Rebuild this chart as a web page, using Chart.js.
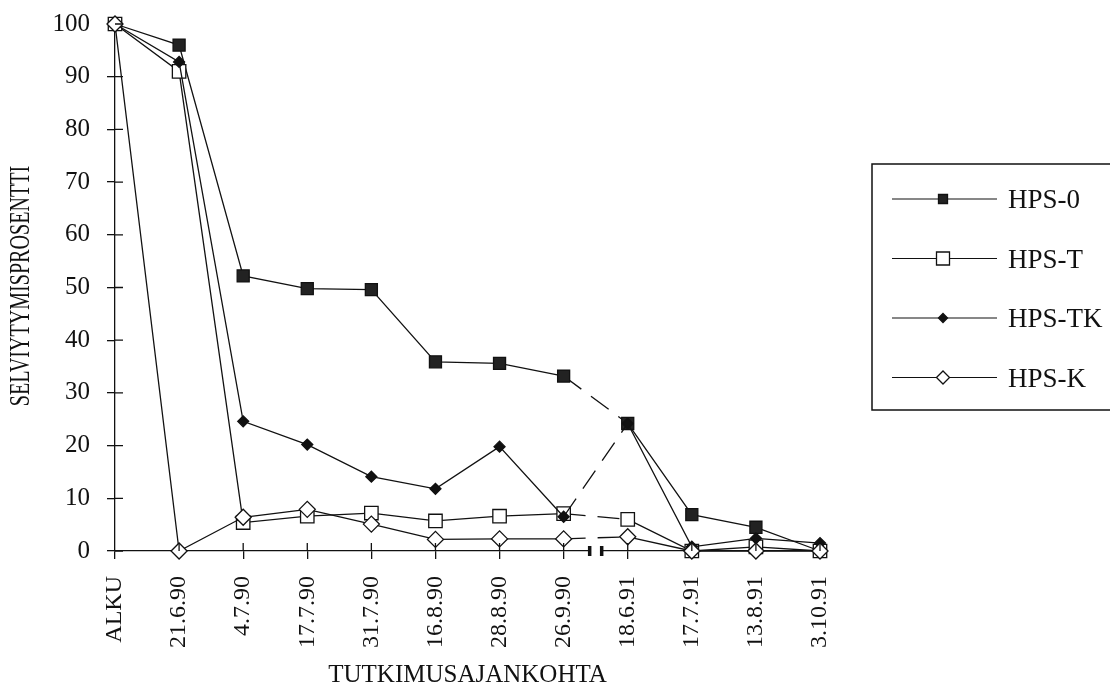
<!DOCTYPE html>
<html lang="fi">
<head>
<meta charset="UTF-8">
<title>Selviytymisprosentti</title>
<script src="https://cdn.jsdelivr.net/npm/chart.js"></script>
<style>
  html, body { margin: 0; padding: 0; background: #fff; }
  #chart { display: block; }
</style>
</head>
<body>
<canvas id="chart" width="1110" height="690"></canvas>
<script>
  const categories = ['ALKU', '21.6.90', '4.7.90', '17.7.90', '31.7.90', '16.8.90', '28.8.90', '26.9.90', '18.6.91', '17.7.91', '13.8.91', '3.10.91'];
  const hps0  = [100, 96.0, 52.2, 49.8, 49.6, 35.9, 35.6, 33.2, 24.2, 6.9, 4.5, 0];
  const hpsT  = [100, 91.0, 5.4, 6.6, 7.2, 5.7, 6.6, 7.1, 6.0, 0, 0.8, 0];
  const hpsTK = [100, 92.8, 24.6, 20.2, 14.1, 11.8, 19.8, 6.5, 24.2, 0.8, 2.4, 1.5];
  const hpsK  = [100, 0, 6.4, 7.9, 5.1, 2.2, 2.3, 2.3, 2.7, 0, 0, 0];
  const yTicks = [0, 10, 20, 30, 40, 50, 60, 70, 80, 90, 100];
  // gap between the 1990 and 1991 measurements
  const breakIndex = 7;

  const ink = '#111';
  const serif = '"Liberation Serif", "Times New Roman", serif';

  function series(label, data, style, radius, fill, order, legendSize) {
    return {
      label, data, order, legendSize,
      borderColor: ink, borderWidth: 1.3,
      pointStyle: style, pointRadius: radius, pointHoverRadius: radius,
      pointBackgroundColor: fill, pointBorderColor: ink, pointBorderWidth: 1.3,
      tension: 0, clip: false,
      segment: { borderDash: c => c.p0DataIndex === breakIndex ? [22, 12] : undefined }
    };
  }

  function marker(ctx, style, fill, size, x, y) {
    ctx.beginPath();
    if (style === 'rect') {
      ctx.rect(x - size, y - size, size * 2, size * 2);
    } else {
      ctx.moveTo(x - size, y); ctx.lineTo(x, y - size);
      ctx.lineTo(x + size, y); ctx.lineTo(x, y + size);
      ctx.closePath();
    }
    ctx.fillStyle = fill; ctx.fill();
    ctx.lineWidth = 1.3; ctx.strokeStyle = ink; ctx.stroke();
  }

  const extras = {
    id: 'extras',
    afterDraw(chart) {
      const { ctx, chartArea, scales: { x, y } } = chart;
      ctx.save();
      ctx.strokeStyle = ink; ctx.lineWidth = 1.3;
      ctx.beginPath();
      yTicks.forEach(v => { const py = y.getPixelForValue(v); ctx.moveTo(chartArea.left, py); ctx.lineTo(chartArea.left + 8, py); });
      categories.forEach((c, i) => { if (!i) return; const px = x.getPixelForValue(i); ctx.moveTo(px, chartArea.bottom); ctx.lineTo(px, chartArea.bottom - 8); });
      ctx.stroke();

      // axis break mark
      const mid = (x.getPixelForValue(breakIndex) + x.getPixelForValue(breakIndex + 1)) / 2;
      ctx.fillStyle = '#fff';
      ctx.fillRect(mid - 5, chartArea.bottom - 2, 10, 4);
      ctx.lineWidth = 3.5;
      ctx.beginPath();
      ctx.moveTo(mid - 6, chartArea.bottom - 5); ctx.lineTo(mid - 6, chartArea.bottom + 5);
      ctx.moveTo(mid + 6, chartArea.bottom - 5); ctx.lineTo(mid + 6, chartArea.bottom + 5);
      ctx.stroke();

      // y title, condensed like the original
      ctx.fillStyle = ink;
      ctx.font = '30px ' + serif;
      ctx.textAlign = 'center'; ctx.textBaseline = 'middle';
      ctx.save();
      ctx.translate(21, 286); ctx.rotate(-Math.PI / 2); ctx.scale(0.67, 1);
      ctx.fillText('SELVIYTYMISPROSENTTI', 0, 0);
      ctx.restore();

      // legend with box
      ctx.lineWidth = 1.5; ctx.strokeStyle = ink;
      ctx.strokeRect(872, 164, 260, 246);
      chart.data.datasets.forEach((ds, i) => {
        const ly = 199 + i * 59.5;
        ctx.lineWidth = 1.2; ctx.strokeStyle = ink;
        ctx.beginPath(); ctx.moveTo(892, ly); ctx.lineTo(997, ly); ctx.stroke();
        marker(ctx, ds.pointStyle, ds.pointBackgroundColor, ds.legendSize, 943, ly);
        ctx.fillStyle = ink; ctx.font = '27px ' + serif;
        ctx.textAlign = 'left'; ctx.textBaseline = 'middle';
        ctx.fillText(ds.label, 1008, ly + 2);
      });
      ctx.restore();
    }
  };

  new Chart(document.getElementById('chart'), {
    type: 'line',
    data: {
      labels: categories,
      datasets: [
        series('HPS-0', hps0, 'rect', 8.5, '#222', 4, 4.5),
        series('HPS-T', hpsT, 'rect', 9.5, '#fff', 3, 6.5),
        series('HPS-TK', hpsTK, 'rectRot', 5.5, '#111', 2, 4.5),
        series('HPS-K', hpsK, 'rectRot', 8, '#fff', 1, 6.5)
      ]
    },
    options: {
      responsive: false,
      animation: false,
      events: [],
      layout: { autoPadding: false, padding: { top: 24, right: 290, left: 0, bottom: 0 } },
      plugins: { legend: { display: false }, tooltip: { enabled: false } },
      scales: {
        x: {
          type: 'category',
          offset: false,
          afterFit: s => { s.height = 139; s.paddingLeft = 0; s.paddingRight = 0; },
          grid: { drawOnChartArea: false, color: ink, lineWidth: 1.3, tickLength: 8 },
          border: { color: ink, width: 1.3 },
          ticks: { autoSkip: false, minRotation: 90, maxRotation: 90, padding: 17, color: ink, font: { family: serif, size: 24 } },
          title: { display: true, text: 'TUTKIMUSAJANKOHTA', color: ink, font: { family: serif, size: 25 }, padding: { top: 0, bottom: 0 } }
        },
        y: {
          min: 0, max: 100,
          afterFit: s => { s.width = 115; s.paddingTop = 0; s.paddingBottom = 0; },
          afterBuildTicks: s => { s.ticks = yTicks.map(v => ({ value: v })); },
          grid: { drawOnChartArea: false, color: ink, lineWidth: 1.3, tickLength: 8 },
          border: { color: ink, width: 1.3 },
          ticks: { padding: 17, color: ink, font: { family: serif, size: 25 } }
        }
      }
    },
    plugins: [extras]
  });
</script>
</body>
</html>
